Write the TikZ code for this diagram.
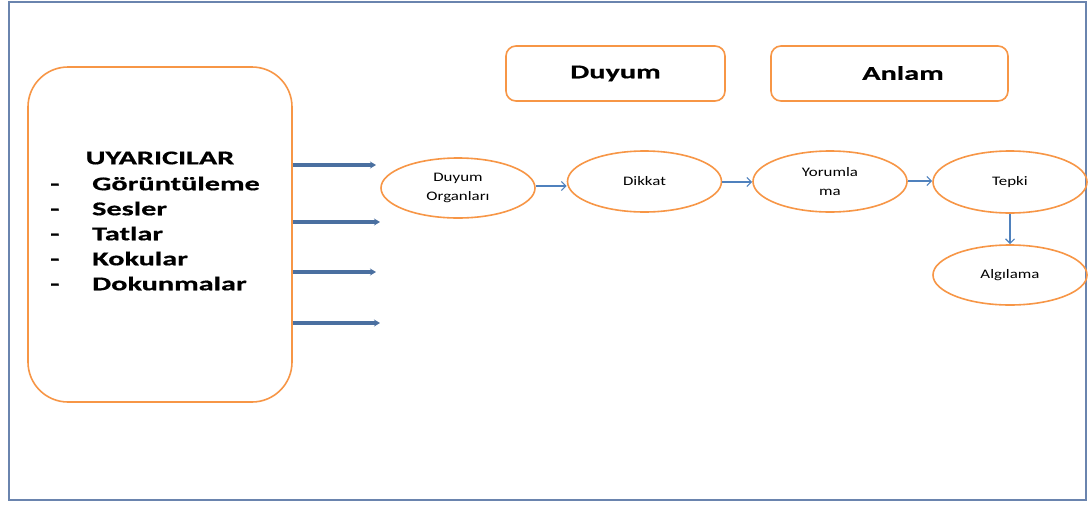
\documentclass[tikz,border=0pt]{standalone}
\usepackage{fontspec}
\setmainfont{Carlito}
\newfontfamily\wfont[FakeStretch=1.55,FakeBold=0.6]{Carlito}
\newfontfamily\sfont[FakeStretch=1.3]{Carlito}
\usetikzlibrary{arrows.meta,shapes.geometric}
\definecolor{frameblue}{HTML}{6A84AE}
\definecolor{boxorange}{HTML}{F79646}
\definecolor{thickblue}{HTML}{4A6FA0}
\definecolor{thinblue}{HTML}{4F81BD}
\tikzset{
  rbox/.style={draw=boxorange, line width=1.6pt, rounded corners=#1, inner sep=0pt},
  oval/.style={draw=boxorange, line width=1.6pt, ellipse, minimum width=154pt, minimum height=60pt, inner sep=0pt, align=center, font=\sfont\fontsize{13}{19}\selectfont},
  bigarrow/.style={draw=thickblue, line width=3.4pt, -{Stealth[length=6pt,width=7pt]}},
  thinarrow/.style={draw=thinblue, line width=1.2pt, -{Straight Barb[length=4.5pt,width=9pt]}},
  boldlabel/.style={font=\wfont\bfseries\fontsize{19.5}{25}\selectfont, inner sep=0pt}
}
\begin{document}
\begin{tikzpicture}[x=1pt,y=-1pt]
\useasboundingbox (0,0) rectangle (1088,504);
\fill[white] (0,0) rectangle (1088,504);
\draw[frameblue, line width=1.2pt] (9,2) rectangle (1086,500);

% stimuli box
\node[rbox=40pt, minimum width=264pt, minimum height=335pt] (stim) at (160,234.5) {};
\node[boldlabel] (title) at (160,158) {UYARICILAR};
\node[boldlabel, anchor=west, align=left] (list) at (48,233.5)
  {\makebox[44pt][l]{\hspace{2pt}-}Görüntüleme\\
   \makebox[44pt][l]{\hspace{2pt}-}Sesler\\
   \makebox[44pt][l]{\hspace{2pt}-}Tatlar\\
   \makebox[44pt][l]{\hspace{2pt}-}Kokular\\
   \makebox[44pt][l]{\hspace{2pt}-}Dokunmalar};

% thick arrows
\coordinate (s1) at (376,165);
\coordinate (s2) at (380,222);
\coordinate (s3) at (376,272);
\coordinate (s4) at (380,323);
\draw[bigarrow] (stim.east |- s1) -- (s1);
\draw[bigarrow] (stim.east |- s2) -- (s2);
\draw[bigarrow] (stim.east |- s3) -- (s3);
\draw[bigarrow] (stim.east |- s4) -- (s4);

% top boxes
\node[rbox=10pt, minimum width=219pt, minimum height=55pt, boldlabel] (duyum) at (615.5,73.5) {Duyum};
\node[rbox=10pt, minimum width=237pt, minimum height=55pt] (anlam) at (889.5,73.5) {};
\node[boldlabel] (anlamtxt) at (903,73) {Anlam};

% ovals
\node[oval] (organ) at (458,188) {Duyum\\Organları};
\node[oval, minimum height=61pt] (dikkat) at (644.5,181.5) {Dikkat};
\node[oval, minimum height=61pt] (yorum) at (830,181.5) {Yorumla\\ma};
\node[oval, minimum height=62pt] (tepki) at (1010,182) {Tepki};
\node[oval] (algi) at (1010,275) {Algılama};

\draw[thinarrow] (organ.east |- 0,186) -- (dikkat.west |- 0,186);
\draw[thinarrow] (dikkat.east |- 0,182) -- (yorum.west |- 0,182);
\draw[thinarrow] (yorum.east |- 0,181) -- (tepki.west |- 0,181);
\draw[thinarrow] (tepki) -- (algi);
\end{tikzpicture}
\end{document}
